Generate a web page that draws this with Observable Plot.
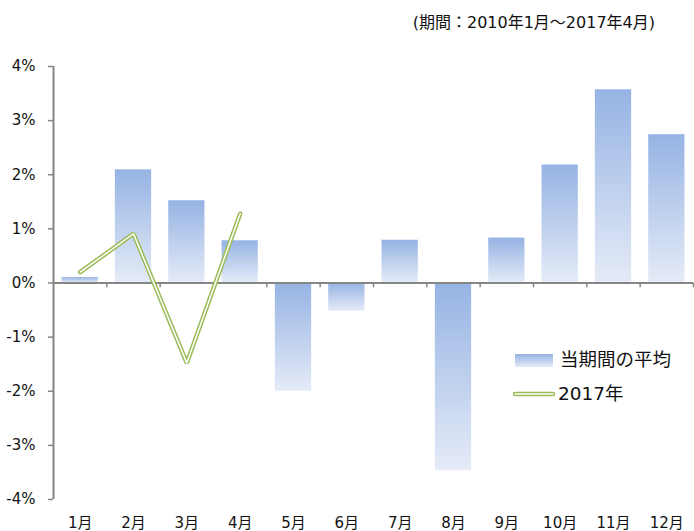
<!DOCTYPE html>
<html>
<head>
<meta charset="utf-8">
<script src="https://cdn.jsdelivr.net/npm/d3@7"></script>
<script src="https://cdn.jsdelivr.net/npm/@observablehq/plot@0.6"></script>
<style>
  html, body { margin: 0; padding: 0; background: #fff; }
  #wrap { position: relative; width: 694px; height: 531px; font-family: "DejaVu Sans", "Noto Sans CJK JP", sans-serif; color: #111; }
  #subtitle { position: absolute; right: 39px; top: 14px; font-size: 16px; line-height: 18px; white-space: nowrap; }
  .leg { position: absolute; font-size: 18.5px; line-height: 22px; white-space: nowrap; display: flex; align-items: center; }
  .swatch { width: 38px; height: 13px; background: linear-gradient(#95b3e3, #e5ebf7); margin-right: 7px; }
  .lineswatch { width: 42px; height: 6px; margin-right: 3px; }
</style>
</head>
<body>
<div id="wrap">
  <div id="chart"></div>
  <div id="subtitle">(期間：2010年1月～2017年4月)</div>
  <div class="leg" style="left:515px; top:349px;"><div class="swatch"></div><span>当期間の平均</span></div>
  <div class="leg" style="left:513px; top:383px;"><svg class="lineswatch" viewBox="0 0 42 6"><line x1="2" y1="3" x2="40" y2="3" stroke="#9bbb59" stroke-width="4.5" stroke-linecap="round"/><line x1="2" y1="3" x2="40" y2="3" stroke="#fff" stroke-width="1.5" stroke-linecap="round"/></svg><span>2017年</span></div>
</div>
<script>
const months = ["1月","2月","3月","4月","5月","6月","7月","8月","9月","10月","11月","12月"];
const avgValues = [0.1, 2.09, 1.52, 0.78, -2.0, -0.52, 0.79, -3.47, 0.83, 2.18, 3.57, 2.74];
const months2017 = ["1月","2月","3月","4月"];
const values2017 = [0.2, 0.91, -1.48, 1.28];
const yTicks = [-4, -3, -2, -1, 0, 1, 2, 3, 4];

const avgData = months.map((m, i) => ({month: m, value: avgValues[i]}));
const data2017 = months2017.map((m, i) => ({month: m, value: values2017[i]}));

const W = 694, H = 531;
const mL = 53, mR = 1, mT = 66, mB = 32;
const step = (W - mL - mR) / months.length;
const half = step / 2;
const axisColor = "#868686";

const chart = Plot.plot({
  width: W,
  height: H,
  marginLeft: mL,
  marginRight: mR,
  marginTop: mT,
  marginBottom: mB,
  style: {fontFamily: '"DejaVu Sans", "Noto Sans CJK JP", sans-serif', fontSize: "15px", color: "#111", background: "transparent"},
  x: {domain: months, paddingInner: 0.32, paddingOuter: 0.16, round: false, label: null},
  y: {domain: [-4, 4], label: null},
  marks: [
    Plot.barY(avgData, {x: "month", y: "value", fill: "url(#barGrad)"}),
    Plot.axisY({ticks: yTicks, tickFormat: d => `${d}%`, tickSize: 5, tickPadding: 13, stroke: axisColor, strokeWidth: 1.5, fill: "#111", fontSize: 15, label: null}),
    Plot.axisX({anchor: "bottom", tickSize: 0, tickPadding: 18, fill: "#111", fontSize: 15, label: null}),
    Plot.ruleX(months, {x: d => d, y1: 0, y2: -0.09, dx: half, stroke: axisColor, strokeWidth: 1.5}),
    Plot.ruleX([months[0]], {x: d => d, y1: -4, y2: 4, dx: -half, stroke: axisColor, strokeWidth: 2}),
    Plot.ruleY([0], {stroke: axisColor, strokeWidth: 2}),
    Plot.line(data2017, {x: "month", y: "value", stroke: "#9bbb59", strokeWidth: 4.5, strokeLinejoin: "miter", strokeLinecap: "round"}),
    Plot.line(data2017, {x: "month", y: "value", stroke: "#ffffff", strokeWidth: 1.5, strokeLinejoin: "miter", strokeLinecap: "round"})
  ]
});

const ns = "http://www.w3.org/2000/svg";
const defs = document.createElementNS(ns, "defs");
defs.innerHTML = '<linearGradient id="barGrad" x1="0" y1="0" x2="0" y2="1"><stop offset="0" stop-color="#95b3e3"/><stop offset="1" stop-color="#e5ebf7"/></linearGradient>';
chart.insertBefore(defs, chart.firstChild);
document.getElementById("chart").appendChild(chart);
</script>
</body>
</html>
